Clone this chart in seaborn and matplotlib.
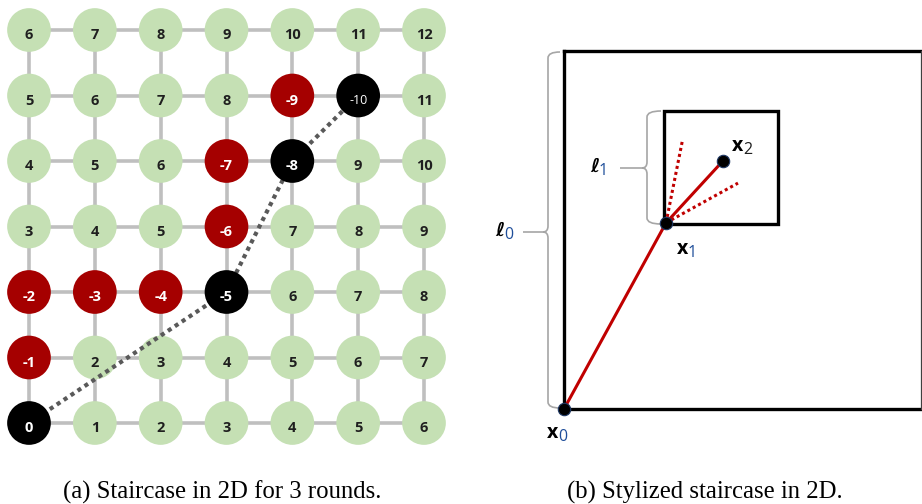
import numpy as np
import pandas as pd
import matplotlib
matplotlib.use("Agg")
import matplotlib.pyplot as plt
from matplotlib.path import Path
from matplotlib.patches import PathPatch
import seaborn as sns

# ---------------- data ----------------
grid_cols = [0, 1, 2, 3, 4, 5, 6]
grid_rows = [0, 1, 2, 3, 4, 5, 6]
# node labels, listed from the bottom row (row 0) to the top row (row 6)
row_labels = [
    [0, 1, 2, 3, 4, 5, 6],
    [-1, 2, 3, 4, 5, 6, 7],
    [-2, -3, -4, -5, 6, 7, 8],
    [3, 4, 5, -6, 7, 8, 9],
    [4, 5, 6, -7, -8, 9, 10],
    [5, 6, 7, 8, -9, -10, 11],
    [6, 7, 8, 9, 10, 11, 12],
]
# staircase round points (col, row)
round_cols = [0, 3, 4, 5]
round_rows = [0, 2, 4, 5]

# stylized staircase (unit = side of the big square)
point_names = ["x0", "x1", "x2"]
point_x = [0.0, 0.285, 0.444]
point_y = [0.0, 0.520, 0.693]
probe_x = [0.330, 0.486]       # dotted alternative directions from x1
probe_y = [0.746, 0.631]
small_box = [0.279, 0.517, 0.598, 0.832]   # x_lo, y_lo, x_hi, y_hi

captions = ["(a) Staircase in 2D for 3 rounds.", "(b) Stylized staircase in 2D."]

# ---------------- styling ----------------
GREEN = "#c5e0b4"
RED = "#a50000"
BLACK = "#000000"
GRID = "#bfbfbf"
W, H = 922, 504
SANS = ["Open Sans", "DejaVu Sans"]

fig = plt.figure(figsize=(W / 100, H / 100), dpi=100)
fig.patch.set_facecolor("white")


def px_axes(x0, y0, x1, y1):
    return fig.add_axes([x0 / W, 1 - y1 / H, (x1 - x0) / W, (y1 - y0) / H])


# ---------------- panel (a) ----------------
axL = px_axes(0, 0, 470, 470)
sx, sy = (424 - 29) / 6, (423 - 30) / 6
axL.axis("off")

for r in grid_rows:
    axL.plot([grid_cols[0], grid_cols[-1]], [r, r], color=GRID, lw=2.6,
             zorder=1, solid_capstyle="butt")
for c in grid_cols:
    axL.plot([c, c], [grid_rows[0], grid_rows[-1]], color=GRID, lw=2.6,
             zorder=1, solid_capstyle="butt")

recs = []
round_set = set(zip(round_cols, round_rows))
for r in grid_rows:
    for c in grid_cols:
        v = row_labels[r][c]
        if (c, r) in round_set:
            st = "round"
        elif v < 0:
            st = "visited"
        else:
            st = "open"
        recs.append(dict(col=c, row=r, label=v, state=st))
nodes = pd.DataFrame(recs)

pal = {"open": GREEN, "visited": RED, "round": BLACK}
sns.scatterplot(data=nodes[nodes.state != "round"], x="col", y="row",
                hue="state", palette=pal, s=990, linewidth=0,
                legend=False, ax=axL, zorder=2)
axL.plot(round_cols, round_rows, color="#595959", lw=3.0,
         linestyle=(0, (1, 1)), dash_capstyle="butt", zorder=3)
sns.scatterplot(data=nodes[nodes.state == "round"], x="col", y="row",
                hue="state", palette=pal, s=990, linewidth=0,
                legend=False, ax=axL, zorder=4)
axL.set_xlabel("")
axL.set_ylabel("")

for _, n in nodes.iterrows():
    col = "#1f1f1f" if n.state == "open" else "white"
    fs = 9 if n.label == -10 else 10.5
    fw = "normal" if n.label == -10 else "bold"
    axL.text(n.col, n.row - 0.08, str(n.label), ha="center", va="center",
             fontsize=fs, fontweight=fw, color=col, family=SANS, zorder=5)
axL.set_xlim((0 - 29) / sx, (470 - 29) / sx)
axL.set_ylim((423 - 470) / sy, (423 - 0) / sy)

# ---------------- panel (b) ----------------
axR = px_axes(470, 0, 922, 470)
U = 358.0
axR.axis("off")


def px2d(px, py):
    return (px - 564) / U, (409 - py) / U


# big square (right edge nearly off the page -> thin)
right = (921 - 564) / U
axR.plot([0, 0], [0, 1], color="black", lw=2.4, zorder=2, solid_capstyle="projecting")
axR.plot([0, right], [1, 1], color="black", lw=2.4, zorder=2, solid_capstyle="projecting")
axR.plot([0, right], [0, 0], color="black", lw=2.4, zorder=2, solid_capstyle="projecting")
axR.plot([right, right], [0, 1], color="#404040", lw=0.9, zorder=2)
# small square
bx0, by0, bx1, by1 = small_box
axR.plot([bx0, bx1, bx1, bx0, bx0], [by0, by0, by1, by1, by0], color="black",
         lw=2.4, zorder=2, solid_joinstyle="miter")

# dotted probes
for px_, py_ in zip(probe_x, probe_y):
    axR.plot([point_x[1], px_], [point_y[1], py_], color="#c00000", lw=2.2,
             linestyle=(0, (1, 1)), dash_capstyle="butt", zorder=3)
# staircase path
path_df = pd.DataFrame(dict(x=point_x, y=point_y, name=point_names))
sns.lineplot(data=path_df, x="x", y="y", sort=False, color="#c00000", lw=2.2,
             ax=axR, zorder=4)
sns.scatterplot(data=path_df, x="x", y="y", color="black", s=80,
                edgecolor="#1f3864", linewidth=0.8, ax=axR, zorder=5)
axR.set_xlabel("")
axR.set_ylabel("")
axR.set_xlim((470 - 564) / U, (922 - 564) / U)
axR.set_ylim((409 - 470) / U, 409 / U)


def brace(spine_px, top_py, bot_py, mid_py, tail_px, hook_px):
    r = 6.0
    pts = [
        (hook_px, top_py),
        (spine_px, top_py), (spine_px, top_py + r),
        (spine_px, mid_py - r),
        (spine_px, mid_py), (spine_px - 5, mid_py),
        (tail_px, mid_py),
        (spine_px - 5, mid_py),
        (spine_px, mid_py), (spine_px, mid_py + r),
        (spine_px, bot_py - r),
        (spine_px, bot_py), (hook_px, bot_py),
    ]
    codes = [Path.MOVETO, Path.CURVE3, Path.CURVE3, Path.LINETO,
             Path.CURVE3, Path.CURVE3, Path.LINETO, Path.MOVETO,
             Path.CURVE3, Path.CURVE3, Path.LINETO, Path.CURVE3, Path.CURVE3]
    verts = [px2d(*p) for p in pts]
    axR.add_patch(PathPatch(Path(verts, codes), fill=False, edgecolor="#a6a6a6",
                            lw=1.2, zorder=1))


brace(548, 52, 408, 232, 523, 560)
brace(647, 111, 224, 168, 620, 661)

fig.canvas.draw()


def label(txt, sub, px, py, subcol="#1f4e9a", fam=SANS):
    x, y = px2d(px, py)
    t = axR.text(x, y, txt, fontsize=14, fontweight="bold", color="black",
                 family=fam, ha="left", va="baseline", zorder=6)
    bb = t.get_window_extent(renderer=fig.canvas.get_renderer())
    inv = axR.transData.inverted()
    xs = inv.transform((bb.x1 - 0.5, bb.y0))[0]
    ys = y - 3.0 / U
    axR.text(xs, ys, sub, fontsize=11.5, color=subcol,
             family=SANS, ha="left", va="baseline", zorder=6)


label("x", "0", 547, 438)
label("x", "1", 677, 254)
label("x", "2", 732, 151, subcol="#1f1f1f")
label("ℓ", "0", 495, 236, fam=["DejaVu Sans"])
label("ℓ", "1", 590, 172, fam=["DejaVu Sans"])

# ---------------- captions ----------------
fig.text(222 / W, 1 - 492 / H, captions[0], ha="center", va="center",
         fontsize=17.8, family="Liberation Serif")
fig.text(705 / W, 1 - 492 / H, captions[1], ha="center", va="center",
         fontsize=17.8, family="Liberation Serif")

fig.savefig("out.png", dpi=100, facecolor="white")
